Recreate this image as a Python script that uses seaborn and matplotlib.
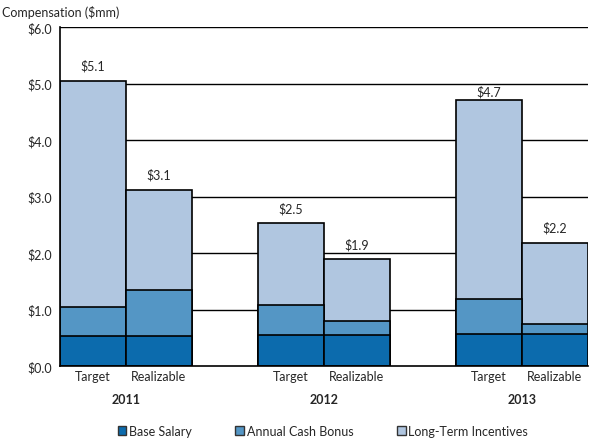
import numpy as np
import pandas as pd
import matplotlib
matplotlib.use("Agg")
import matplotlib.pyplot as plt
import matplotlib.patches as mpatches
import seaborn as sns

# values ($mm)
years = ["2011", "2012", "2013"]
kinds = ["Target", "Realizable"]
base_salary = [0.53, 0.53, 0.54, 0.54, 0.56, 0.56]
cash_bonus = [0.52, 0.82, 0.54, 0.26, 0.62, 0.18]
long_term = [4.00, 1.77, 1.45, 1.09, 3.52, 1.44]
total_labels = ["$5.1", "$3.1", "$2.5", "$1.9", "$4.7", "$2.2"]

base_col = "#0C6BAD"
bonus_col = "#5496C5"
lti_col = "#B0C6E0"

# 8 slots: two bars per year, an empty slot between years
slots = ["2011 Target", "2011 Realizable", "gap1",
         "2012 Target", "2012 Realizable", "gap2",
         "2013 Target", "2013 Realizable"]
bar_slots = [s for s in slots if not s.startswith("gap")]

df = pd.DataFrame({
    "slot": bar_slots,
    "base": base_salary,
    "bonus": cash_bonus,
    "lti": long_term,
})
df["lvl2"] = df["base"] + df["bonus"]
df["total"] = df["lvl2"] + df["lti"]

sns.set_style("white")
plt.rcParams["font.family"] = ["Lato", "DejaVu Sans"]

fig = plt.figure(figsize=(5.89, 4.39), dpi=100)
ax = fig.add_axes([60 / 589, 72 / 439, 528 / 589, 339 / 439])

for yv in range(1, 7):
    ax.axhline(yv, color="black", lw=1.0, zorder=0)

for col, c in [("total", lti_col), ("lvl2", bonus_col), ("base", base_col)]:
    sns.barplot(data=df, x="slot", y=col, order=slots, color=c, width=1.0,
                edgecolor="black", linewidth=1.2, saturation=1, ax=ax, zorder=2)

pos = {s: i for i, s in enumerate(slots)}
for s, t, lab in zip(df["slot"], df["total"], total_labels):
    # squeeze the label under the next gridline when it would sit on it
    gap = np.ceil(t) - t
    off = 0.17 if 0.2 < gap < 0.4 else 0.27
    ax.text(pos[s], t + off, lab, ha="center", va="center", fontsize=9)

ax.set_xlim(-0.5, len(slots) - 0.5)
ax.set_ylim(0, 6)
ax.set_yticks(np.arange(0, 6.1, 1))
ax.set_yticklabels([f"${v:.1f}" for v in np.arange(0, 6.1, 1)], fontsize=9)
ax.set_xlabel("")
ax.set_ylabel("")

# bar-kind labels under each bar, ticks at slot boundaries
ax.set_xticks([pos[s] for s in bar_slots])
ax.set_xticklabels([s.split(" ")[1] for s in bar_slots], fontsize=9)
ax.tick_params(axis="x", which="major", length=0, pad=3)
ax.set_xticks(np.arange(-0.5, len(slots)), minor=True)
ax.tick_params(axis="x", which="minor", length=4, width=1, color="black", direction="out")
ax.tick_params(axis="y", length=3, width=1, color="black", direction="out", pad=3)

for i, y in enumerate(years):
    ax.text(pos[f"{y} Target"] + 0.5, -0.58, y, ha="center", va="center",
            fontsize=9, fontweight="bold")

for side in ["top", "right"]:
    ax.spines[side].set_visible(False)
for side in ["left", "bottom"]:
    ax.spines[side].set_color("black")
    ax.spines[side].set_linewidth(1.2)

fig.text(0.003, 0.972, "Compensation ($mm)", ha="left", va="center", fontsize=9)

handles = [mpatches.Patch(facecolor=c, edgecolor="#333333", label=l)
           for c, l in [(base_col, "Base Salary"), (bonus_col, "Annual Cash Bonus"),
                        (lti_col, "Long-Term Incentives")]]
fig.legend(handles=handles, loc="center", bbox_to_anchor=(0.548, 0.016), ncol=3,
           frameon=False, fontsize=9, handlelength=0.7, handleheight=0.7,
           handletextpad=0.2, columnspacing=3.5)

fig.savefig("out.png", dpi=100)
